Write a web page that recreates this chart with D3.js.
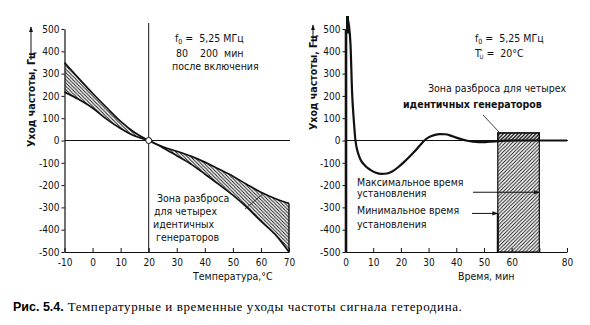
<!DOCTYPE html>
<html><head><meta charset="utf-8">
<script src="https://cdn.jsdelivr.net/npm/d3@7"></script>
<style>
body{margin:0;background:#fff;}
svg{display:block;}
.tk{font-family:"DejaVu Sans Condensed","Liberation Sans Narrow",sans-serif;font-size:10px;fill:#111;}
.lbl{font-family:"DejaVu Sans Condensed","Liberation Sans Narrow",sans-serif;font-size:10.5px;fill:#111;}
</style></head>
<body>
<svg id="c" width="590" height="325"></svg>
<script>
// ---- Data ----
const tempTicks = [-10,0,10,20,30,40,50,60,70];
const yTicks = [-500,-400,-300,-200,-100,0,100,200,300,400,500];
const tempX = [-10,-5,0,5,10,15,20,25,30,35,40,45,50,55,60,65,70];
const bandUpper = [350,280,212,148,86,36,0,-28,-48,-70,-97,-128,-160,-197,-232,-260,-282];
const bandLower = [217,185,146,96,54,20,0,-32,-68,-105,-150,-197,-245,-300,-362,-420,-500];
const timeTicks = [0,10,20,30,40,50,60,70,80];
const timeLabels = ["0","10","20","30","40","50","60","","80"];
const timeX = [0.6,1.2,1.8,2.4,3,3.6,4.5,5.4,7,9,11,13,15,17,19,21,23,25,27,28.5,30,32,34,36,38,40,42,44,46,48,50,52,55,58,62,70,80];
const driftY = [550,520,433,210,90,0,-55,-85,-112,-132,-145,-150,-148,-138,-120,-98,-74,-48,-20,0,14,24,29,28,22,13,5,-1,-5,-7,-7,-5,-3,-1,0,0,0];
const zoneT = [55,70];      // spread zone, minutes
const zoneF = [-500,34];    // spread zone, Hz
const maxSettle = -232, minSettle = -327;

const svg = d3.select("#c");
const defs = svg.append("defs");
function hatch(id, dir, s){
  const p = defs.append("pattern").attr("id",id).attr("patternUnits","userSpaceOnUse")
    .attr("width",s).attr("height",s);
  if(dir>0) p.append("path").attr("d",`M-1,1 l2,-2 M0,${s} l${s},-${s} M${s-1},${s+1} l2,-2`);
  else p.append("path").attr("d",`M-1,${s-1} l2,2 M0,0 l${s},${s} M${s-1},-1 l2,2`);
  p.selectAll("path").attr("stroke","#111").attr("stroke-width",0.95);
}
hatch("hL",-1,3.4); hatch("hR",1,3.6);
defs.append("marker").attr("id","arr").attr("viewBox","0 0 10 10").attr("refX",9).attr("refY",5)
  .attr("markerWidth",6).attr("markerHeight",6).attr("orient","auto")
  .append("path").attr("d","M0,1.5 L10,5 L0,8.5 z").attr("fill","#111");

const y = d3.scaleLinear().domain([-500,500]).range([252,29]);
const xL = d3.scaleLinear().domain([-10,70]).range([64.5,289]);
const xR = d3.scaleLinear().domain([0,80]).range([345.5,567]);
const fmt = d => d<0 ? "-"+Math.abs(d) : String(d);

function yAxis(x0, w){
  const g = svg.append("g").attr("transform",`translate(${x0},0)`)
    .call(d3.axisLeft(y).tickValues(yTicks).tickSize(3).tickSizeOuter(0).tickPadding(2).tickFormat(fmt));
  g.select(".domain").attr("stroke","#111").attr("stroke-width",w);
  g.selectAll(".tick line").attr("stroke","#111");
  g.selectAll("text").attr("class","tk");
  g.attr("font-family",null).attr("font-size",null);
}
function xAxis(sc, ticks, labels){
  const g = svg.append("g").attr("transform","translate(0,252)")
    .call(d3.axisBottom(sc).tickValues(ticks).tickSize(-4).tickSizeOuter(0).tickFormat((d,i)=>labels[i]));
  g.select(".domain").attr("stroke","#111").attr("stroke-width",1.2);
  g.selectAll(".tick line").attr("stroke","#111");
  g.selectAll("text").attr("class","tk").attr("y",14).attr("dy",0);
  g.attr("font-family",null).attr("font-size",null);
}

// ---------- LEFT CHART ----------
svg.append("line").attr("x1",xL(-10)).attr("x2",xL(70)+1).attr("y1",y(0)).attr("y2",y(0)).attr("stroke","#111").attr("stroke-width",1);
svg.append("line").attr("x1",xL(20)).attr("x2",xL(20)).attr("y1",23).attr("y2",252).attr("stroke","#111").attr("stroke-width",1);

const bandData = tempX.map((t,i)=>({t,u:bandUpper[i],l:bandLower[i]}));
const area = d3.area().x(d=>xL(d.t)).y0(d=>y(d.l)).y1(d=>y(d.u)).curve(d3.curveMonotoneX);
svg.append("path").datum(bandData).attr("d",area).attr("fill","url(#hL)");
const lu = d3.line().x(d=>xL(d.t)).y(d=>y(d.u)).curve(d3.curveMonotoneX);
const ll = d3.line().x(d=>xL(d.t)).y(d=>y(d.l)).curve(d3.curveMonotoneX);
svg.append("path").datum(bandData).attr("d",lu).attr("fill","none").attr("stroke","#111").attr("stroke-width",1.7);
svg.append("path").datum(bandData).attr("d",ll).attr("fill","none").attr("stroke","#111").attr("stroke-width",1.7);
svg.append("line").attr("x1",xL(70)).attr("x2",xL(70)).attr("y1",y(-282)).attr("y2",y(-500)).attr("stroke","#111").attr("stroke-width",1.4);
svg.append("circle").attr("cx",xL(20)).attr("cy",y(0)).attr("r",3).attr("fill","#fff").attr("stroke","#111").attr("stroke-width",1);

yAxis(xL(-10), 1.2);
xAxis(xL, tempTicks, tempTicks.map(fmt));

const tL = svg.append("g").attr("class","lbl");
const f0 = tL.append("text").attr("x",175).attr("y",42);
f0.append("tspan").text("f");
f0.append("tspan").attr("font-size","7px").attr("dy",2).text("0");
f0.append("tspan").attr("dy",-2).text("\u00a0=\u00a0\u00a05,25 МГц");
tL.append("text").attr("x",176).attr("y",57).text("80\u00a0\u00a0\u00a0\u00a0200\u00a0\u00a0мин");
tL.append("text").attr("x",172).attr("y",70).text("после включения");
["Зона разброса","для четырех","идентичных","генераторов"].forEach((s,i)=>{
  tL.append("text").attr("x",[157,154,153,156][i]).attr("y",[202,215,228,241][i]).text(s);
});
svg.append("line").attr("x1",245).attr("y1",209).attr("x2",264).attr("y2",193).attr("stroke","#111").attr("stroke-width",0.8);
svg.append("text").attr("class","lbl").attr("x",193).attr("y",280).text("Температура,°С");

function yLabel(x, yb, yArrowTop, yArrowBot){
  svg.append("text").attr("class","lbl").attr("font-weight","bold")
    .attr("transform",`translate(${x},${yb}) rotate(-90)`).text("Уход частоты, Гц");
  svg.append("line").attr("x1",x-4).attr("x2",x-4).attr("y1",yArrowBot).attr("y2",yArrowTop)
    .attr("stroke","#111").attr("stroke-width",1).attr("marker-end","url(#arr)");
}
yLabel(35,147,27,60);

// ---------- RIGHT CHART ----------
svg.append("line").attr("x1",xR(0)).attr("x2",xR(80)+1).attr("y1",y(0)).attr("y2",y(0)).attr("stroke","#111").attr("stroke-width",1);
svg.append("rect").attr("x",xR(zoneT[0])).attr("y",y(zoneF[1])).attr("width",xR(zoneT[1])-xR(zoneT[0]))
  .attr("height",y(zoneF[0])-y(zoneF[1])).attr("fill","url(#hR)").attr("stroke","#111").attr("stroke-width",1.2);
svg.append("rect").attr("x",xR(zoneT[0])).attr("y",y(zoneF[1])).attr("width",xR(zoneT[1])-xR(zoneT[0]))
  .attr("height",y(0)-y(zoneF[1])).attr("fill","url(#hR)").attr("stroke","#111").attr("stroke-width",1.2);
svg.append("line").attr("x1",xR(zoneT[0])).attr("x2",xR(zoneT[0])).attr("y1",y(minSettle)).attr("y2",y(-500)).attr("stroke","#111").attr("stroke-width",2);

const drift = timeX.map((t,i)=>({t,v:driftY[i]}));
svg.append("path").datum(drift).attr("d",d3.line().x(d=>xR(d.t)).y(d=>y(d.v)).curve(d3.curveMonotoneX))
  .attr("fill","none").attr("stroke","#111").attr("stroke-width",2.2);
svg.append("line").attr("x1",xR(0)+2).attr("x2",xR(0)+2).attr("y1",16).attr("y2",y(480)).attr("stroke","#111").attr("stroke-width",3);

yAxis(xR(0), 2.6);
xAxis(xR, timeTicks, timeLabels);

const tR = svg.append("g").attr("class","lbl");
const f1 = tR.append("text").attr("x",475).attr("y",42);
f1.append("tspan").text("f");
f1.append("tspan").attr("font-size","7px").attr("dy",2).text("0");
f1.append("tspan").attr("dy",-2).text("\u00a0=\u00a0\u00a05,25 МГц");
const t1 = tR.append("text").attr("x",475).attr("y",57);
t1.append("tspan").text("T");
t1.append("tspan").attr("font-size","6px").attr("dy",-4).attr("dx",-1).text("*");
t1.append("tspan").attr("font-size","6px").attr("dy",6).attr("dx",-3).text("U");
t1.append("tspan").attr("dy",-2).text("\u00a0=\u00a0\u00a020°С");
tR.append("text").attr("x",428).attr("y",92).text("Зона разброса для четырех");
tR.append("text").attr("x",403).attr("y",108).attr("font-weight","bold").text("идентичных генераторов");
svg.append("line").attr("x1",483).attr("y1",115).attr("x2",499).attr("y2",132).attr("stroke","#111").attr("stroke-width",0.8);
tR.append("text").attr("x",357).attr("y",186).text("Максимальное время");
tR.append("text").attr("x",357).attr("y",197).text("установления");
tR.append("text").attr("x",357).attr("y",214).text("Минимальное время");
tR.append("text").attr("x",357).attr("y",228).text("установления");
svg.append("line").attr("x1",473).attr("x2",xR(zoneT[1])).attr("y1",y(maxSettle)).attr("y2",y(maxSettle))
  .attr("stroke","#111").attr("stroke-width",1).attr("marker-end","url(#arr)");
svg.append("line").attr("x1",472).attr("x2",xR(zoneT[0])).attr("y1",y(minSettle)).attr("y2",y(minSettle))
  .attr("stroke","#111").attr("stroke-width",1).attr("marker-end","url(#arr)");
svg.append("text").attr("class","lbl").attr("x",458).attr("y",280).text("Время, мин");
yLabel(317,130,25,47);

// caption
const cap = svg.append("text").attr("x",13).attr("y",311);
cap.append("tspan").attr("font-family","Liberation Sans, sans-serif").attr("font-weight","bold").attr("font-size","12.5px").text("Рис. 5.4.");
cap.append("tspan").attr("font-family","Liberation Serif, serif").attr("font-size","13px").attr("letter-spacing","0.6").text(" Температурные и временные уходы частоты сигнала гетеродина.");
</script>
</body></html>
